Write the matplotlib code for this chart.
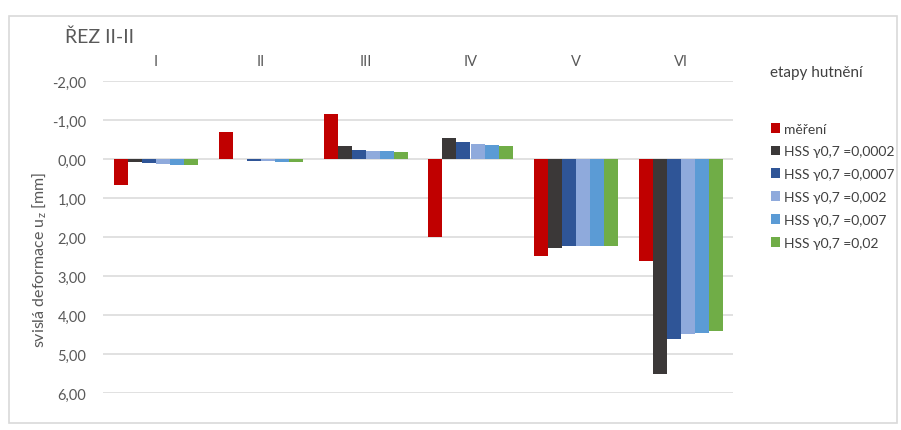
import numpy as np
import matplotlib.pyplot as plt
from matplotlib.patches import Rectangle

plt.rcParams['font.family'] = ['Lato', 'DejaVu Sans']

stages = ['I', 'II', 'III', 'IV', 'V', 'VI']
series_names = ['měření', 'HSS γ0,7 =0,0002', 'HSS γ0,7 =0,0007',
                'HSS γ0,7 =0,002', 'HSS γ0,7 =0,007', 'HSS γ0,7 =0,02']

mereni = [0.66, -0.68, -1.16, 2.00, 2.48, 2.61]
hss_00002 = [0.08, 0.00, -0.33, -0.55, 2.29, 5.50]
hss_00007 = [0.10, 0.04, -0.24, -0.43, 2.22, 4.61]
hss_0002 = [0.12, 0.05, -0.21, -0.38, 2.22, 4.48]
hss_0007 = [0.15, 0.07, -0.20, -0.36, 2.22, 4.45]
hss_002 = [0.15, 0.07, -0.18, -0.34, 2.24, 4.42]

yticks = [-2, -1, 0, 1, 2, 3, 4, 5, 6]

colors = ['#C00000', '#3B3838', '#2F5597', '#8FAADC', '#5B9BD5', '#70AD47']
series = [mereni, hss_00002, hss_00007, hss_0002, hss_0007, hss_002]

W, H = 901, 431
fig = plt.figure(figsize=(W / 100, H / 100), dpi=100)

# chart area border
fig.patches.append(Rectangle((9 / W, 1 - 424 / H), 888 / W, 407 / H,
                             transform=fig.transFigure, fill=False,
                             edgecolor='#D9D9D9', lw=1.2))

ax = fig.add_axes([103 / W, 1 - 394 / H, 630 / W, 312 / H])

x = np.arange(len(stages))
w = 0.8 / len(series)
for i, (vals, name, c) in enumerate(zip(series, series_names, colors)):
    ax.bar(x + (i - 2.5) * w, vals, width=w, color=c, label=name, zorder=3)

ax.set_xlim(-0.5, 5.5)
ax.set_ylim(6, -2)
ax.set_yticks(yticks)
ax.set_yticklabels([f'{v:.2f}'.replace('.', ',') for v in yticks])
ax.grid(axis='y', color='#D9D9D9', lw=1.1, zorder=0)
ax.xaxis.tick_top()
ax.set_xticks(x)
ax.set_xticklabels(stages)
ax.tick_params(length=0, labelsize=10.5, colors='#595959')
ax.tick_params(axis='x', pad=9)
ax.tick_params(axis='y', pad=12)
for s in ax.spines.values():
    s.set_visible(False)

ax.set_ylabel('svislá deformace u$_\\mathregular{z}$ [mm]', fontsize=11.5,
              color='#595959')
ax.yaxis.set_label_coords(-0.085, 0.43)

fig.text(65 / W, 1 - 37 / H, 'ŘEZ II-II', fontsize=14, color='#595959',
         va='center', ha='left')
fig.text(770 / W, 1 - 73 / H, 'etapy hutnění', fontsize=11, color='#404040',
         va='center', ha='left')

ax.legend(loc='upper left', bbox_to_anchor=(758 / W, 1 - 111 / H),
          bbox_transform=fig.transFigure, frameon=False, fontsize=10,
          labelcolor='#404040', handlelength=0.7, handleheight=0.7,
          handletextpad=0.3, labelspacing=0.78)

fig.savefig('out.png', dpi=100)
